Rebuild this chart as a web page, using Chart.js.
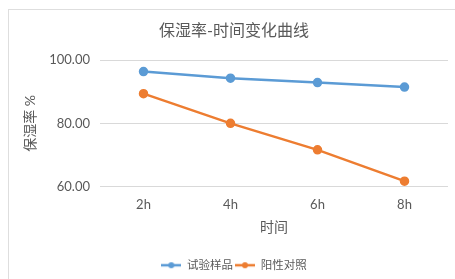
<!DOCTYPE html>
<html>
<head>
<meta charset="utf-8">
<script src="https://cdn.jsdelivr.net/npm/chart.js@4/dist/chart.umd.min.js"></script>
<style>
  html, body { margin: 0; padding: 0; background: #fff; }
  #wrap { width: 455px; height: 279px; position: relative; }
</style>
</head>
<body>
<div id="wrap"><canvas id="myChart" width="455" height="279"></canvas></div>
<script>
const timeLabels = ["2h", "4h", "6h", "8h"];
const sampleValues = [96.4, 94.3, 92.9, 91.5];
const controlValues = [89.4, 80.0, 71.6, 61.7];
const yTicks = [60, 80, 100];

const textColor = "#595959";
const fontFamily = 'Lato, "Noto Sans CJK SC", sans-serif';

// little line-with-dot icon for the legend, like Excel does
function legendIcon(color) {
  let c = document.createElement("canvas");
  c.width = 20;
  c.height = 8;
  let g = c.getContext("2d");
  g.strokeStyle = color;
  g.lineWidth = 2.5;
  g.beginPath();
  g.moveTo(0, 4);
  g.lineTo(20, 4);
  g.stroke();
  g.fillStyle = color;
  g.beginPath();
  g.arc(10, 4, 3, 0, Math.PI * 2);
  g.fill();
  return c;
}

const frame = {
  id: "frame",
  beforeDraw(chart) {
    let ctx = chart.ctx;
    ctx.save();
    ctx.strokeStyle = "#dedede";
    ctx.lineWidth = 1;
    ctx.strokeRect(8.5, 9.5, 460, 300);
    ctx.restore();
  },
};

const ctx = document.getElementById("myChart").getContext("2d");
const mainChart = new Chart(ctx, {
  type: "line",
  data: {
    labels: timeLabels,
    datasets: [
      {
        label: "试验样品",
        data: sampleValues,
        borderColor: "#5B9BD5",
        backgroundColor: "#5B9BD5",
        borderWidth: 2.5,
        pointRadius: 3.5,
        pointStyle: "circle",
        tension: 0,
      },
      {
        label: "阳性对照",
        data: controlValues,
        borderColor: "#ED7D31",
        backgroundColor: "#ED7D31",
        borderWidth: 2.5,
        pointRadius: 3.5,
        pointStyle: "circle",
        tension: 0,
      },
    ],
  },
  options: {
    responsive: false,
    animation: false,
    layout: { padding: { left: 20, right: 7, top: 0, bottom: -2 } },
    plugins: {
      title: {
        display: true,
        text: "保湿率-时间变化曲线",
        color: textColor,
        font: { family: fontFamily, size: 16, weight: "normal" },
        padding: { top: 21, bottom: 20 },
      },
      legend: {
        position: "bottom",
        labels: {
          usePointStyle: true,
          pointStyleWidth: 20,
          color: textColor,
          font: { family: fontFamily, size: 11.5 },
          padding: 2,
          generateLabels(chart) {
            return chart.data.datasets.map((ds, i) => ({
              text: ds.label,
              pointStyle: legendIcon(ds.borderColor),
              fontColor: textColor,
              lineWidth: 0,
              hidden: false,
              datasetIndex: i,
            }));
          },
        },
      },
      tooltip: { enabled: false },
    },
    scales: {
      x: {
        offset: true,
        afterFit(scale) {
          scale.height = 71;
        },
        grid: { display: false, drawTicks: false },
        border: { display: false },
        ticks: {
          color: textColor,
          font: { family: fontFamily, size: 13 },
          padding: 11,
        },
        title: {
          display: true,
          text: "时间",
          color: textColor,
          font: { family: fontFamily, size: 14 },
          padding: { top: 0, bottom: 21.6 },
        },
      },
      y: {
        min: 60,
        max: 100,
        afterFit(scale) {
          scale.width = 80;
        },
        afterBuildTicks(scale) {
          scale.ticks = yTicks.map((v) => ({ value: v }));
        },
        grid: { color: "#d9d9d9", lineWidth: 1, drawTicks: false },
        border: { display: false },
        ticks: {
          color: textColor,
          font: { family: fontFamily, size: 13 },
          padding: 10,
          callback: (v) => Number(v).toFixed(2),
        },
        title: {
          display: true,
          text: "保湿率 %",
          color: textColor,
          font: { family: fontFamily, size: 14 },
          padding: { top: 2, bottom: 0 },
        },
      },
    },
  },
  plugins: [frame],
});
</script>
</body>
</html>
